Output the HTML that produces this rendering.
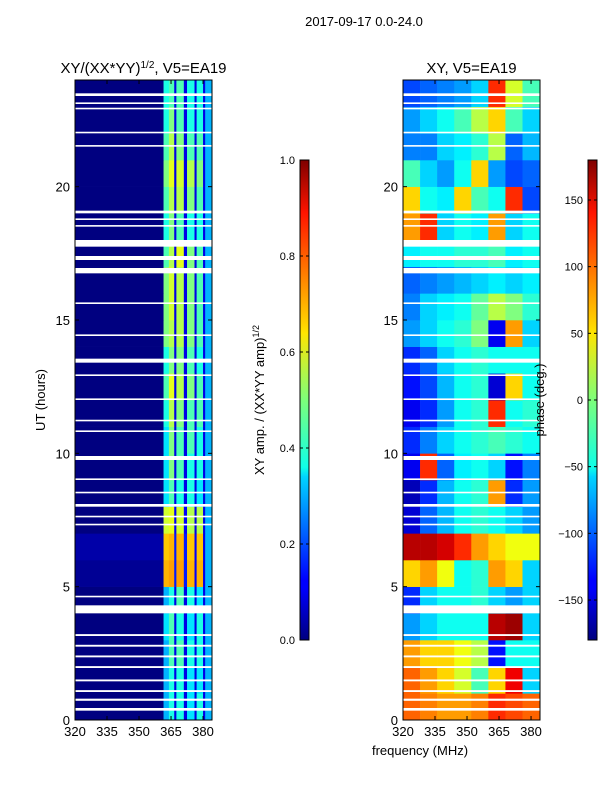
<!DOCTYPE html>
<html><head><meta charset="utf-8"><style>
body{margin:0;background:#fff;font-family:"Liberation Sans",sans-serif}
svg text{font-family:"Liberation Sans","DejaVu Sans",sans-serif}
</style></head><body>
<svg id="fig" width="600" height="800" xmlns="http://www.w3.org/2000/svg">
<defs><linearGradient id="jet" x1="0" y1="1" x2="0" y2="0">
<stop offset="0" stop-color="#00007f"/><stop offset="0.11" stop-color="#0000ff"/><stop offset="0.125" stop-color="#0000ff"/>
<stop offset="0.34" stop-color="#00d4ff"/><stop offset="0.36" stop-color="#0fffe7"/><stop offset="0.5" stop-color="#7dff7a"/>
<stop offset="0.64" stop-color="#ffe500"/><stop offset="0.66" stop-color="#ffd200"/><stop offset="0.89" stop-color="#ff1400"/><stop offset="1" stop-color="#7f0000"/>
</linearGradient></defs>
<text x="364" y="26" font-size="13" text-anchor="middle">2017-09-17 0.0-24.0</text>
<g id="g"></g>
</svg>
<script>
// ---- data ----
const ampFreqEdges=[320,361.5,364,366.5,367.5,371,372.5,376,377,380,381,384.2];
const ampRows=[
[0.0,0.3,0.4,0.1,0.4,0.1,0.35,0.1,0.4,0.1,0.3],
[0.0,0.3,0.4,0.1,0.4,0.1,0.35,0.1,0.35,0.1,0.3],
[0.0,0.3,0.45,0.1,0.45,0.1,0.4,0.1,0.4,0.1,0.3],
[0.0,0.35,0.45,0.1,0.4,0.1,0.35,0.1,0.4,0.1,0.3],
[0.0,0.3,0.4,0.1,0.45,0.1,0.4,0.1,0.35,0.1,0.3],
[0.02,0.7,0.72,0.15,0.72,0.15,0.7,0.12,0.7,0.1,0.3],
[0.04,0.68,0.7,0.15,0.7,0.15,0.68,0.12,0.68,0.1,0.3],
[0.0,0.58,0.6,0.12,0.58,0.12,0.55,0.1,0.55,0.1,0.3],
[0.0,0.35,0.45,0.1,0.4,0.1,0.4,0.1,0.35,0.1,0.3],
[0.0,0.35,0.5,0.1,0.45,0.1,0.4,0.1,0.4,0.1,0.3],
[0.0,0.35,0.5,0.1,0.45,0.1,0.45,0.1,0.4,0.1,0.3],
[0.0,0.4,0.55,0.1,0.5,0.1,0.45,0.1,0.45,0.1,0.3],
[0.0,0.45,0.6,0.1,0.55,0.1,0.5,0.1,0.45,0.1,0.3],
[0.0,0.4,0.5,0.1,0.5,0.1,0.45,0.1,0.4,0.1,0.3],
[0.0,0.5,0.55,0.1,0.55,0.1,0.5,0.1,0.45,0.1,0.3],
[0.0,0.5,0.58,0.1,0.55,0.1,0.5,0.1,0.45,0.1,0.3],
[0.0,0.5,0.58,0.1,0.55,0.1,0.5,0.1,0.45,0.1,0.3],
[0.0,0.45,0.55,0.1,0.6,0.1,0.5,0.1,0.45,0.1,0.3],
[0.0,0.4,0.5,0.1,0.45,0.1,0.4,0.1,0.4,0.1,0.3],
[0.0,0.45,0.55,0.1,0.55,0.1,0.5,0.1,0.45,0.1,0.3],
[0.0,0.5,0.6,0.1,0.58,0.1,0.55,0.1,0.5,0.1,0.3],
[0.0,0.45,0.55,0.1,0.5,0.1,0.45,0.1,0.45,0.1,0.3],
[0.0,0.4,0.5,0.1,0.45,0.1,0.4,0.1,0.4,0.1,0.3],
[0.0,0.4,0.45,0.1,0.45,0.1,0.4,0.1,0.4,0.1,0.3]];
const phaseFreqEdges=[320,328,336,344,352,360,368,376,384.2];
const phaseRows=[
[100,90,80,80,90,120,110,100],
[100,80,60,30,-20,60,140,-60],
[80,60,60,40,20,-130,-40,-40],
[-80,-60,-40,-40,-40,160,170,-60],
[-120,-60,-40,-40,-30,-60,-80,-60],
[60,80,40,-40,-30,80,60,-60],
[160,160,150,120,80,60,40,40],
[-150,-100,-70,-40,-30,-40,-60,-80],
[-160,-120,-70,-40,-30,80,-120,-80],
[-140,120,-100,-50,-40,-60,-130,-90],
[-120,-90,-60,-40,-30,-20,-30,-40],
[-140,-120,-80,-40,-30,120,-40,-30],
[-130,-110,-70,-40,-30,-150,60,-40],
[-120,-100,-60,-40,-30,-40,-40,-40],
[-80,-60,-40,-30,0,-140,80,-60],
[-90,-60,-50,-40,-10,20,0,-30],
[-100,-90,-80,-70,-60,-50,-60,-50],
[-50,-40,-40,-30,-30,-20,-50,-40],
[80,120,-60,-40,-50,80,-60,-40],
[60,-40,-50,60,-20,-40,120,-110],
[-20,-60,-80,-40,60,-80,-110,-100],
[-90,-90,-60,-50,-30,20,-100,-70],
[-80,-60,-40,-20,20,60,-20,-60],
[-110,-100,-90,-80,-60,120,30,-20]];
const gapStarts=[0.35,0.72,1.05,1.45,1.95,2.35,2.75,3.15,4.0,4.6,7.3,7.6,8.0,8.5,9.0,9.75,10.8,11.2,12.0,12.9,13.4,14.4,15.6,16.75,17.25,17.75,18.5,18.75,19.0,21.5,22.0,22.9,23.1,23.4];
const gapEnds  =[0.45,0.80,1.12,1.52,2.02,2.42,2.82,3.22,4.3,4.66,7.36,7.66,8.1,8.56,9.06,9.9,10.86,11.26,12.06,12.96,13.55,14.46,15.66,16.95,17.4,18.0,18.56,18.81,19.1,21.56,22.06,22.96,23.16,23.5];
const xTicks=[320,335,350,365,380];
const yTicks=[0,5,10,15,20];
const ampTicks=[0.0,0.2,0.4,0.6,0.8,1.0];
const phaseTicks=[-150,-100,-50,0,50,100,150];

const NS='http://www.w3.org/2000/svg', G=document.getElementById('g');
function mk(t,a,p){const e=document.createElementNS(NS,t);for(const k in a)e.setAttribute(k,a[k]);(p||G).appendChild(e);return e;}
function jet(v){v=Math.max(0,Math.min(1,v));
 const r=Math.max(0,Math.min(1,1.5-Math.abs(4*v-3))),g=Math.max(0,Math.min(1,1.5-Math.abs(4*v-2))),b=Math.max(0,Math.min(1,1.5-Math.abs(4*v-1)));
 return `rgb(${Math.round(r*255)},${Math.round(g*255)},${Math.round(b*255)})`;}
const F0=320,F1=384.2,T0=0,T1=24,Y0=720,Y1=80;
function yS(h){return Y0+(h-T0)/(T1-T0)*(Y1-Y0);}
function panel(px,name,edges,rows,norm,title){
 const W=137;const xS=f=>px+(f-F0)/(F1-F0)*W;
 const g=mk('g',{});  
 rows.forEach((row,i)=>{row.forEach((v,j)=>{
  const x0=xS(edges[j]),x1=xS(edges[j+1]),y0=yS(i+1),y1=yS(i);
  const r=mk('rect',{x:x0,y:y0,width:x1-x0+0.3,height:y1-y0+0.3,fill:jet(norm(v))},g);
   });});
 gapStarts.forEach((s,k)=>{const r=mk('rect',{x:px,y:yS(gapEnds[k]),width:W,height:yS(s)-yS(gapEnds[k]),fill:'#fff'},g);
   });
 const fr=mk('rect',{x:px,y:Y1,width:W,height:Y0-Y1,fill:'none',stroke:'#000','stroke-width':1});
  
 xTicks.forEach(t=>{const x=xS(t);mk('line',{x1:x,x2:x,y1:Y0,y2:Y0-4,stroke:'#000'});mk('line',{x1:x,x2:x,y1:Y1,y2:Y1+4,stroke:'#000'});
  const l=mk('text',{x:x,y:Y0+16,'font-size':13,'text-anchor':'middle'});l.textContent=t;
   });
 yTicks.forEach(t=>{const y=yS(t);mk('line',{x1:px,x2:px+4,y1:y,y2:y,stroke:'#000'});mk('line',{x1:px+W,x2:px+W-4,y1:y,y2:y,stroke:'#000'});
  const l=mk('text',{x:px-5,y:y+5,'font-size':13,'text-anchor':'end'});l.textContent=t;
   });
 const tt=mk('text',{x:px+W/2,y:73,'font-size':15,'text-anchor':'middle'});tt.innerHTML=title;
  
}
panel(75,'amplitude-panel',ampFreqEdges,ampRows,v=>v,'XY/(XX*YY)<tspan font-size="10" dy="-5">1/2</tspan><tspan dy="5">, V5=EA19</tspan>');
panel(403,'phase-panel',phaseFreqEdges,phaseRows,v=>(v+180)/360,'XY, V5=EA19');
function cbar(x,name,ticks,lo,hi,fmt){
 const r=mk('rect',{x:x,y:160,width:9,height:480,fill:'url(#jet)',stroke:'#000','stroke-width':1});
  
 ticks.forEach(t=>{const y=640-(t-lo)/(hi-lo)*480;
  mk('line',{x1:x,x2:x+3,y1:y,y2:y,stroke:'#000'});mk('line',{x1:x+9,x2:x+6,y1:y,y2:y,stroke:'#000'});
  const l=mk('text',{x:x-5,y:y+4,'font-size':11,'text-anchor':'end'});l.textContent=fmt(t);
   });
}
cbar(300,'amplitude-colorbar',ampTicks,0,1,t=>t.toFixed(1));
cbar(588,'phase-colorbar',phaseTicks,-180,180,t=>t<0?'\u2212'+(-t):''+t);
let e;
e=mk('text',{x:0,y:0,'font-size':13,'text-anchor':'middle',transform:'translate(45,400) rotate(-90)'});e.textContent='UT (hours)';
 
e=mk('text',{x:420,y:755,'font-size':13,'text-anchor':'middle'});e.textContent='frequency (MHz)';
 
e=mk('text',{x:0,y:0,'font-size':13,'text-anchor':'middle',transform:'translate(264,400) rotate(-90)'});e.innerHTML='XY amp. / (XX*YY amp)<tspan font-size="9" dy="-5">1/2</tspan>';
 
e=mk('text',{x:0,y:0,'font-size':13,'text-anchor':'middle',transform:'translate(544,400) rotate(-90)'});e.textContent='phase (deg.)';
 
</script>
</body></html>
